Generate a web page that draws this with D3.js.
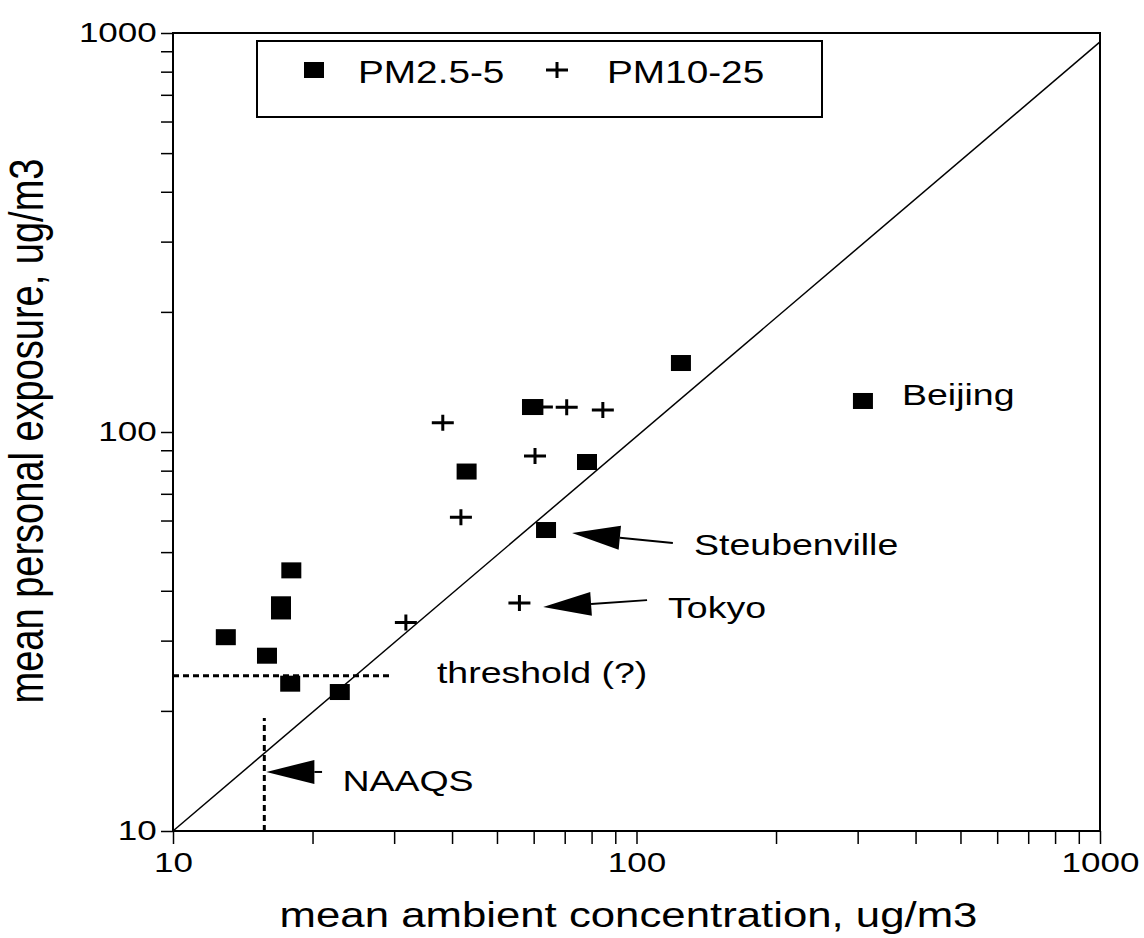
<!DOCTYPE html>
<html>
<head>
<meta charset="utf-8">
<script src="https://cdn.jsdelivr.net/npm/d3@7"></script>
<style>
    body { margin: 0; background: #fff; }
    text { font-family: 'Liberation Sans', Arial, sans-serif; fill: #000; }
</style>
</head>
<body>
<div id="chart"></div>
<script>
// PM2.5-5 (squares) and PM10-25 (crosses): [ambient, personal]
const pm25Points = [
    [13.0, 30.6], [15.95, 27.5], [17.1, 37.0], [17.1, 35.5], [18.0, 45.0],
    [17.9, 23.4], [22.9, 22.3], [43.0, 79.6], [59.5, 115.5], [78.2, 84.1],
    [63.8, 56.8], [124.7, 148.9], [308, 119.6],
];
const pm10Points = [
    [38.2, 105.5], [62.5, 115.5], [70.7, 115.3], [84.6, 113.5], [60.4, 87.1],
    [41.8, 61.1], [55.9, 37.3], [31.8, 33.3],
];
const majorTicks = [10, 100, 1000];
const legendItems = ['PM2.5-5', 'PM10-25'];

const identityLine = [[10, 10], [1000, 950]];
const naaqsLine = [[15.74, 10], [15.74, 19.2]];
const thresholdLine = [[10, 24.5], [29.8, 24.5]];

const arrows = [
    { tip: [72.6, 55.8], tail: [119.8, 52.7] },
    { tip: [62.9, 36.4], tail: [105.4, 37.9] },
    { tip: [15.9, 14.06], tail: [20.97, 14.06] },
];
const labels = [
    { text: 'Steubenville', at: [133.1, 49.2] },
    { text: 'Tokyo', at: [117, 34.2] },
    { text: 'NAAQS', at: [23.2, 12.6] },
    { text: 'threshold (?)', at: [37.1, 23.5] },
    { text: 'Beijing', at: [374, 116.9] },
];

const W = 1144;
const H = 938;
const margin = { left: 173, right: 44, top: 33, bottom: 107 };
const width = W - margin.left - margin.right;
const height = H - margin.top - margin.bottom;
const stretch = 1.25; // text in the original is wide

const svg = d3.select('#chart').append('svg')
    .attr('width', W)
    .attr('height', H);

svg.append('rect').attr('width', W).attr('height', H).attr('fill', '#fff');

const g = svg.append('g')
    .attr('transform', `translate(${margin.left}, ${margin.top})`);

const x = d3.scaleLog().domain([10, 1000]).range([0, width]);
const y = d3.scaleLog().domain([10, 1000]).range([height, 0]);

const fmt = (d) => (majorTicks.includes(d) ? d : '');

const xAxis = g.append('g')
    .attr('transform', `translate(0, ${height})`)
    .call(d3.axisBottom(x).tickValues(x.ticks()).tickSize(13).tickSizeOuter(0).tickPadding(8).tickFormat(fmt));
xAxis.select('.domain').remove();
xAxis.selectAll('line').attr('stroke-width', 1.5);
xAxis.selectAll('text')
    .style('font-size', '28px')
    .attr('transform', `scale(${stretch},1)`);

const yAxis = g.append('g')
    .call(d3.axisLeft(y).tickValues(y.ticks()).tickSize(12).tickSizeOuter(0).tickFormat(fmt));
yAxis.select('.domain').remove();
yAxis.selectAll('line').attr('stroke-width', 1.5);
yAxis.selectAll('text')
    .style('font-size', '28px')
    .attr('x', -13)
    .attr('transform', `scale(${stretch},1)`);

// frame
g.append('rect')
    .attr('width', width)
    .attr('height', height)
    .attr('fill', 'none')
    .attr('stroke', '#000')
    .attr('stroke-width', 2);

const line = d3.line().x((d) => x(d[0])).y((d) => y(d[1]));

g.append('path')
    .attr('d', line(identityLine))
    .attr('fill', 'none')
    .attr('stroke', '#000')
    .attr('stroke-width', 1.5);

[naaqsLine, thresholdLine].forEach((l) => {
    g.append('path')
        .attr('d', line(l))
        .attr('fill', 'none')
        .attr('stroke', '#000')
        .attr('stroke-width', 3)
        .attr('stroke-dasharray', '6,4');
});

// markers
const cross = (sel) => sel.append('path')
    .attr('d', 'M-11,0H11M0,-8V8')
    .attr('stroke', '#000')
    .attr('stroke-width', 3)
    .attr('fill', 'none');

g.selectAll('.pm10')
    .data(pm10Points)
    .enter()
    .append('g')
    .attr('class', 'pm10')
    .attr('transform', (d) => `translate(${x(d[0])}, ${y(d[1])})`)
    .call(cross);

g.selectAll('.pm25')
    .data(pm25Points)
    .enter()
    .append('rect')
    .attr('class', 'pm25')
    .attr('x', (d) => x(d[0]) - 10)
    .attr('y', (d) => y(d[1]) - 8)
    .attr('width', 20)
    .attr('height', 16)
    .attr('fill', '#000');

// arrows
arrows.forEach((a) => {
    const tx = x(a.tip[0]);
    const ty = y(a.tip[1]);
    const ex = x(a.tail[0]);
    const ey = y(a.tail[1]);
    const ang = Math.atan2(ey - ty, ex - tx);
    const len = 48;
    const half = 12;
    const bx = tx + len * Math.cos(ang);
    const by = ty + len * Math.sin(ang);
    const px = -Math.sin(ang) * half;
    const py = Math.cos(ang) * half;
    g.append('path')
        .attr('d', `M${tx},${ty}L${bx + px},${by + py}L${bx - px},${by - py}Z`)
        .attr('fill', '#000');
    g.append('line')
        .attr('x1', bx).attr('y1', by)
        .attr('x2', ex).attr('y2', ey)
        .attr('stroke', '#000')
        .attr('stroke-width', 2);
});

labels.forEach((l) => {
    g.append('text')
        .attr('transform', `translate(${x(l.at[0])}, ${y(l.at[1])}) scale(${stretch},1)`)
        .style('font-size', '30px')
        .text(l.text);
});

// legend
const legend = svg.append('g').attr('transform', 'translate(257, 41)');
legend.append('rect')
    .attr('width', 565)
    .attr('height', 76)
    .attr('fill', '#fff')
    .attr('stroke', '#000')
    .attr('stroke-width', 2);
legend.append('rect')
    .attr('x', 47).attr('y', 21)
    .attr('width', 20).attr('height', 16)
    .attr('fill', '#000');
legend.append('g')
    .attr('transform', 'translate(300, 29)')
    .call(cross);
legendItems.forEach((t, i) => {
    legend.append('text')
        .attr('transform', `translate(${i === 0 ? 101 : 350}, 42) scale(${stretch},1)`)
        .style('font-size', '31px')
        .text(t);
});

// axis titles
svg.append('text')
    .attr('transform', `translate(${margin.left + width / 2 - 8}, 927) scale(${stretch},1)`)
    .attr('text-anchor', 'middle')
    .style('font-size', '35px')
    .text('mean ambient concentration, ug/m3');

svg.append('text')
    .attr('transform', `translate(43, 431) scale(${stretch},1) rotate(-90)`)
    .attr('text-anchor', 'middle')
    .style('font-size', '38px')
    .text('mean personal exposure, ug/m3');
</script>
</body>
</html>
